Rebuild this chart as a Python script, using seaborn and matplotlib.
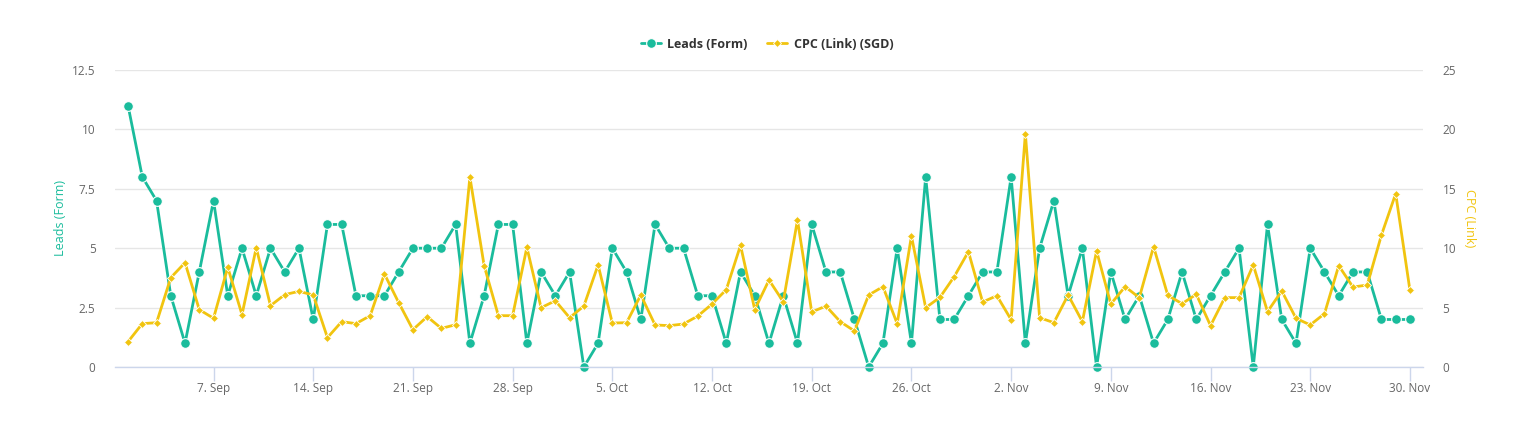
import matplotlib.pyplot as plt
import matplotlib.dates as mdates
from matplotlib.ticker import FuncFormatter, MultipleLocator
import pandas as pd
import seaborn as sns

TEAL = "#1abc9c"
YELLOW = "#f1c40f"

start_date = "2020-09-01"
end_date = "2020-11-30"

leads = [
    11, 8, 7, 3, 1, 4, 7, 3, 5, 3, 5, 4, 5, 2, 6, 6, 3, 3, 3, 4,
    5, 5, 5, 6, 1, 3, 6, 6, 1, 4,
    3, 4, 0, 1, 5, 4, 2, 6, 5, 5, 3, 3, 1, 4, 3, 1, 3, 1, 6, 4,
    4, 2, 0, 1, 5, 1, 8, 2, 2, 3, 4,
    4, 8, 1, 5, 7, 3, 5, 0, 4, 2, 3, 1, 2, 4, 2, 3, 4, 5, 0, 6,
    2, 1, 5, 4, 3, 4, 4, 2, 2, 2,
]

cpc = [
    2.13, 3.65, 3.73, 7.52, 8.78, 4.83, 4.10, 8.39, 4.41, 10.04,
    5.16, 6.09, 6.37, 6.06, 2.47, 3.82, 3.65, 4.32, 7.83, 5.42,
    3.14, 4.24, 3.25, 3.56, 15.99, 8.53, 4.32, 4.32, 10.07, 4.99,
    5.58, 4.15, 5.13, 8.59, 3.70, 3.73, 6.06, 3.54, 3.48, 3.62,
    4.29, 5.30, 6.51, 10.24, 4.83, 7.32, 5.50, 12.37, 4.63, 5.13,
    3.82, 3.03, 6.06, 6.76, 3.65, 11.03, 4.99, 5.86, 7.60, 9.71, 5.47,
    6.00, 3.98, 19.64, 4.15, 3.73, 6.06, 3.82, 9.76, 5.30, 6.76,
    5.84, 10.13, 6.03, 5.33, 6.12, 3.48, 5.84, 5.84, 8.59, 4.66,
    6.40, 4.10, 3.54, 4.49, 8.53, 6.73, 6.90, 11.11, 14.59, 6.45,
]

df = pd.DataFrame({
    "date": pd.date_range(start_date, end_date, freq="D"),
    "Leads (Form)": leads,
    "CPC (Link) (SGD)": cpc,
})

sns.set_style("white")
plt.rcParams["font.family"] = ["Open Sans", "DejaVu Sans"]

fig = plt.figure(figsize=(15.34, 4.25), dpi=100)
ax = fig.add_axes([115 / 1534, 58 / 425, 1308 / 1534, 297 / 425])
ax2 = ax.twinx()

sns.lineplot(
    data=df, x="date", y="Leads (Form)", ax=ax, color=TEAL,
    linewidth=2, marker="o", markersize=7,
    markeredgecolor="white", markeredgewidth=0.8, clip_on=False,
)
sns.lineplot(
    data=df, x="date", y="CPC (Link) (SGD)", ax=ax2, color=YELLOW,
    linewidth=2, marker="D", markersize=4.5,
    markeredgecolor="white", markeredgewidth=0.6, clip_on=False,
)

pad = pd.Timedelta(hours=22)
ax.set_xlim(df["date"].iloc[0] - pad, df["date"].iloc[-1] + pad)
ax.set_ylim(0, 12.5)
ax2.set_ylim(0, 25)
ax.yaxis.set_major_locator(MultipleLocator(2.5))
ax2.yaxis.set_major_locator(MultipleLocator(5))
ax.yaxis.set_major_formatter(FuncFormatter(lambda v, _: f"{v:g}"))
ax2.yaxis.set_major_formatter(FuncFormatter(lambda v, _: f"{v:g}"))

ax.xaxis.set_major_locator(mdates.WeekdayLocator(byweekday=mdates.MO))
ax.xaxis.set_major_formatter(
    FuncFormatter(lambda v, _: f"{mdates.num2date(v).day}. {mdates.num2date(v):%b}")
)

ax.grid(axis="y", color="#e6e6e6", linewidth=1)
ax.grid(axis="x", visible=False)
ax2.grid(False)
for a in (ax, ax2):
    for side in ("top", "left", "right", "bottom"):
        a.spines[side].set_visible(False)
ax.spines["bottom"].set_visible(True)
ax.spines["bottom"].set_color("#ccd6eb")
ax.spines["bottom"].set_linewidth(1)

ax.tick_params(axis="x", colors="#ccd6eb", length=10, width=1, labelcolor="#666666",
               labelsize=8.5, pad=1, bottom=True)
ax.tick_params(axis="y", length=0, labelcolor="#666666", labelsize=8.5, pad=14)
ax2.tick_params(axis="y", length=0, labelcolor="#666666", labelsize=8.5, pad=14)

ax.set_xlabel("")
ax.set_ylabel("Leads (Form)", color=TEAL, fontsize=9, labelpad=4)
ax2.set_ylabel("CPC (Link)", color=YELLOW, fontsize=9, rotation=-90, labelpad=14)

h1, = ax.get_lines()[:1]
h2, = ax2.get_lines()[:1]
leg = fig.legend(
    [h1, h2], ["Leads (Form)", "CPC (Link) (SGD)"],
    loc="center", bbox_to_anchor=(0.5, 1 - 44 / 425), ncol=2, frameon=False,
    handlelength=1.6, columnspacing=1.6, handletextpad=0.5,
    prop={"weight": "bold", "size": 9},
)
for t in leg.get_texts():
    t.set_color("#333333")

fig.savefig("out.png", dpi=100)
